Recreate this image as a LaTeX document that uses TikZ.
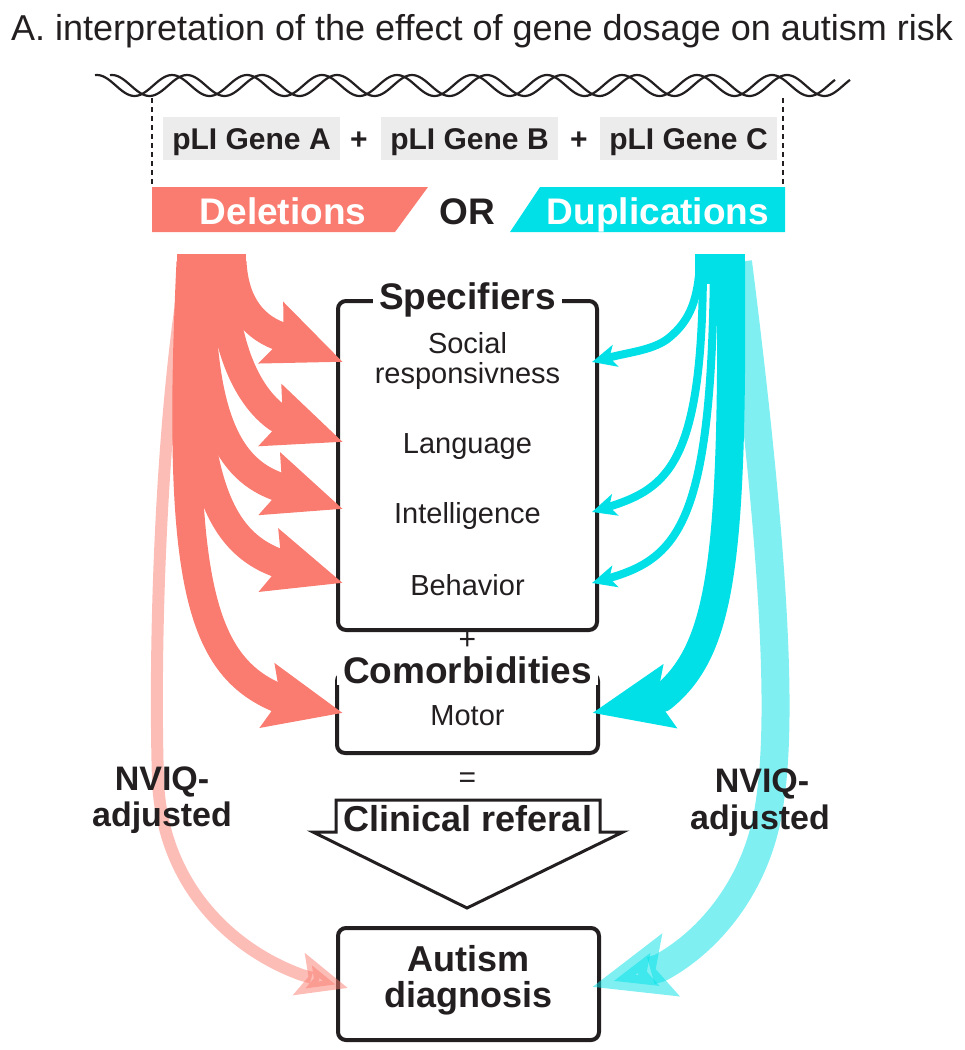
\documentclass[tikz,border=0pt]{standalone}
\usepackage{fontspec}
\setmainfont{Liberation Sans}
\usetikzlibrary{arrows.meta}
\definecolor{salmon}{HTML}{FA7B6F}
\definecolor{aqua}{HTML}{00E0E6}
\definecolor{ink}{HTML}{231F20}
\definecolor{pli}{HTML}{ECECEC}
\newcommand{\myfs}[1]{\fontsize{#1}{#1}\selectfont}
\begin{document}
\begin{tikzpicture}[x=1pt,y=-1pt,
  box/.style={draw=ink, line width=4pt, rounded corners=8pt, inner sep=0pt},
  boxtitle/.style={fill=white, inner xsep=6pt, inner ysep=2pt, font=\myfs{37}\bfseries, text=ink, anchor=base},
  item/.style={font=\myfs{29}, text=ink, anchor=base, inner sep=0pt},
  plibox/.style={fill=pli, minimum width=177pt, minimum height=43pt, text height=22pt, text depth=0pt, font=\myfs{30}\bfseries, text=ink, inner sep=0pt},
  plus/.style={font=\myfs{30}\bfseries, text=ink, anchor=base, inner sep=0pt},
  banner/.style={font=\myfs{37}\bfseries, text=white, anchor=base, inner sep=0pt},
  bold/.style={font=\myfs{36}\bfseries, text=ink, anchor=base, inner sep=0pt},
  nviq/.style={font=\myfs{34}\bfseries, text=ink, anchor=base, inner sep=0pt},
  helix/.style={draw=ink, line width=2.2pt},
  guide/.style={draw=ink, line width=1.5pt, dash pattern=on 5pt off 4pt},
  redarr/.style={draw=salmon, line width=29pt, line join=round, -{Stealth[length=76pt, width=63pt, inset=12pt]}},
  aquaarr/.style={draw=aqua, line width=28pt, line join=round, -{Stealth[length=78pt, width=62pt, inset=12pt]}},
  aquathin/.style={draw=aqua, line width=8pt, line join=round, -{Stealth[length=24pt, width=22pt, inset=6pt]}},
  lightred/.style={draw=salmon, opacity=0.5, line width=12pt, line join=round, -{Stealth[length=50pt, width=42pt, inset=9pt]}},
  lightaqua/.style={draw=aqua, opacity=0.5, line width=28pt, line join=round, -{Stealth[length=80pt, width=62pt, inset=14pt]}},
  src/.style={inner sep=0pt, anchor=north west}
]
\useasboundingbox (0,0) rectangle (965,1050);

% title
\node[font=\myfs{36}, text=ink, anchor=base, inner sep=0pt] (title) at (482,40) {A. interpretation of the effect of gene dosage on autism risk};

% DNA helix
\draw[helix] plot[domain=95:835, samples=300, smooth] (\x, {85.5-10.5*cos(((\x-97)/75)*360)});
\draw[helix] plot[domain=110:850, samples=300, smooth] (\x, {85.5-10.5*cos(((\x-112)/75)*360)});

% guides
\coordinate (gl1) at (152,98); \coordinate (gl2) at (152,187);
\coordinate (gr1) at (783,98); \coordinate (gr2) at (783,187);
\draw[guide] (gl1) -- (gl2);
\draw[guide] (gr1) -- (gr2);

% pLI genes
\node[plibox] (ga) at (251.5,138.5) {pLI Gene A};
\node[plibox] (gb) at (469.5,138.5) {pLI Gene B};
\node[plibox] (gc) at (688.5,138.5) {pLI Gene C};
\node[plus] (p1) at (359,149.5) {+};
\node[plus] (p2) at (579,149.5) {+};

% banners
\fill[salmon] (152,187) -- (428,187) -- (395,232) -- (152,232) -- cycle;
\fill[aqua] (540,187) -- (785,187) -- (785,232) -- (510,232) -- cycle;
\node[banner] (del) at (283,224) {Deletions};
\node[bold, font=\myfs{37}\bfseries] (or) at (467,224) {OR};
\node[banner] (dup) at (658,224) {Duplications};

% boxes
\node[box, minimum width=259pt, minimum height=329pt] (spec) at (467.5,465.5) {};
\node[box, minimum width=261pt, minimum height=80pt] (comor) at (467.5,713) {};
\node[box, minimum width=261pt, minimum height=112pt] (diag) at (468.5,984) {};
\node[boxtitle] (specT) at (467.5,309) {Specifiers};
\node[boxtitle] (comT) at (467.5,683) {Comorbidities};
\node[item] (soc1) at (467.5,353) {Social};
\node[item] (soc2) at (467.5,383) {responsivness};
\node[item] (lang) at (467.5,453) {Language};
\node[item] (intel) at (467.5,523) {Intelligence};
\node[item] (behav) at (467.5,595) {Behavior};
\node[item] (motor) at (467.5,725) {Motor};
\node[item, font=\myfs{30}] (plus3) at (467.5,649) {+};
\node[item, font=\myfs{30}] (eq) at (467.5,787) {=};

% clinical referal arrow
\draw[ink, line width=3pt] (336,800) -- (600,800) -- (600,832) -- (623,832) -- (467,908) -- (313,832) -- (336,832) -- cycle;
\node[bold] (clin) at (468,831) {Clinical referal};

\node[bold, font=\myfs{36}\bfseries] (aut1) at (468.5,971) {Autism};
\node[bold, font=\myfs{36}\bfseries] (aut2) at (468.5,1007) {diagnosis};

% arrow targets
\coordinate (rt1) at (343,362);
\coordinate (rt2) at (343,442);
\coordinate (rt3) at (343,509);
\coordinate (rt4) at (343,583);
\coordinate (rt5) at (343,713);
\coordinate (rt6) at (348,988);
\coordinate (at1) at (592,362);
\coordinate (at3) at (592,512);
\coordinate (at4) at (592,583);
\coordinate (at5) at (592,713);
\coordinate (at6) at (592,987);

% light arrows
\coordinate (rs6) at (186,270);
\coordinate (as6) at (738,262);
\draw[lightred] (rs6) .. controls (160,430) and (154,650) .. (158,780) .. controls (162,885) and (232,950) .. (302,975) -- (rt6);
\draw[lightaqua] (as6) .. controls (768,500) and (785,700) .. (770,800) .. controls (760,880) and (712,940) .. (660,968) -- (at6);

% red source and arrows
\node[src, fill=salmon, minimum width=69pt, minimum height=30pt] (redsrc) at (177,254) {};
\coordinate (rs1) at (232,262);
\coordinate (rs2) at (222,262);
\coordinate (rs3) at (201,262);
\coordinate (rs4) at (194,262);
\coordinate (rs5) at (191,262);
\draw[redarr] (rs5) .. controls (176,580) and (200,665) .. (278,698) -- (rt5);
\draw[redarr] (rs4) .. controls (188,470) and (215,540) .. (278,563) -- (rt4);
\draw[redarr] (rs3) .. controls (198,420) and (230,470) .. (279,487) -- (rt3);
\draw[redarr] (rs2) .. controls (222,340) and (245,395) .. (278,418) -- (rt2);
\draw[redarr] (rs1) .. controls (234,300) and (250,325) .. (279,336) -- (rt1);

% aqua source and arrows
\node[src, fill=aqua, minimum width=50pt, minimum height=30pt] (aquasrc) at (695,254) {};
\coordinate (as1) at (700,262);
\coordinate (as3) at (703,262);
\coordinate (as4) at (714,262);
\coordinate (as5) at (731,262);
\draw[aquathin] (as1) .. controls (698,300) and (690,320) .. (670,337) .. controls (655,350) and (630,352) .. (at1);
\draw[aquathin] (as3) .. controls (703,460) and (670,488) .. (at3);
\draw[aquathin] (as4) .. controls (712,520) and (680,558) .. (at4);
\draw[aquaarr] (as5) .. controls (733,560) and (722,650) .. (662,698) -- (at5);

% NVIQ labels
\node[nviq] (nl1) at (162,790) {NVIQ-};
\node[nviq] (nl2) at (162,826) {adjusted};
\node[nviq] (nr1) at (762,792) {NVIQ-};
\node[nviq] (nr2) at (760,829) {adjusted};
\end{tikzpicture}
\end{document}
